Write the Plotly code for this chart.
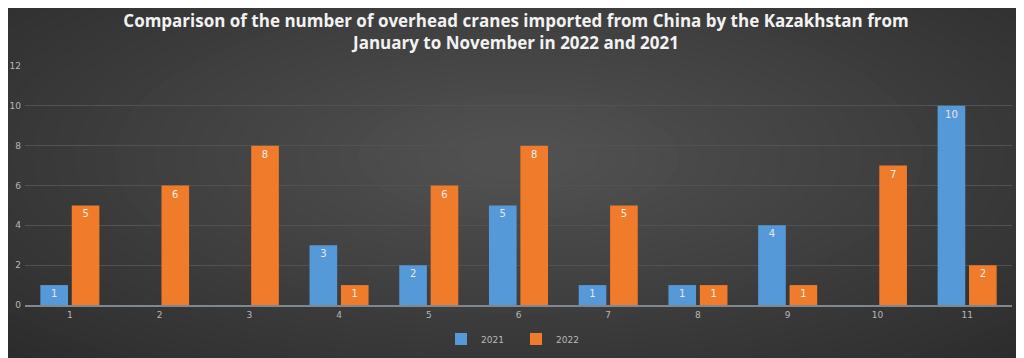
import plotly.graph_objects as go

months = ["1", "2", "3", "4", "5", "6", "7", "8", "9", "10", "11"]
values_2021 = [1, 0, 0, 3, 2, 5, 1, 1, 4, 0, 10]
values_2022 = [5, 6, 8, 1, 6, 8, 5, 1, 1, 7, 2]
y_ticks = [0, 2, 4, 6, 8, 10, 12]

def labels(vals):
    return [str(v) if v else "" for v in vals]

fig = go.Figure()
fig.add_trace(go.Bar(
    name="2021", x=months, y=values_2021, text=labels(values_2021),
    marker=dict(color="#5599d8", line=dict(width=0)),
    textposition="inside", insidetextanchor="end",
    textfont=dict(color="#e8e8e8", size=10, family="DejaVu Sans"),
))
fig.add_trace(go.Bar(
    name="2022", x=months, y=values_2022, text=labels(values_2022),
    marker=dict(color="#f07b2a", line=dict(width=0)),
    textposition="inside", insidetextanchor="end",
    textfont=dict(color="#f0f0f0", size=10, family="DejaVu Sans"),
))

# radial-ish background gradient built from concentric ellipses
shapes = []
n = 36
for i in range(n):
    t = i / (n - 1)
    rx = 0.72 * (1 - t) + 0.06
    ry = 1.15 * (1 - t) + 0.1
    c = int(round(42 + (80 - 42) * t))
    shapes.append(dict(
        type="circle", xref="paper", yref="paper",
        x0=0.5 - rx, x1=0.5 + rx, y0=0.62 - ry, y1=0.62 + ry,
        fillcolor=f"rgb({c},{c},{c})", line=dict(width=0), layer="below",
    ))

fig.update_layout(
    width=1016, height=350,
    margin=dict(l=17, r=12, t=58, b=53, autoexpand=False),
    paper_bgcolor="#2a2a2a", plot_bgcolor="rgba(0,0,0,0)",
    shapes=shapes,
    title=dict(
        text="Comparison of the number of overhead cranes imported from China by the Kazakhstan from<br>January to November in 2022 and 2021",
        x=0.5, xanchor="center", xref="container",
        y=0.946, yanchor="top", yref="container",
        font=dict(family="Open Sans", size=17, color="#f2f2f2", weight="bold"),
    ),
    barmode="group", bargap=0.3, bargroupgap=0.12,
    xaxis=dict(
        showgrid=False, showline=True, linecolor="#7f8790", linewidth=1.5,
        tickfont=dict(size=9, color="#b8b8b8", family="DejaVu Sans"),
        ticks="", fixedrange=True,
    ),
    yaxis=dict(
        range=[0, 12], tickvals=y_ticks, showgrid=True, gridcolor="#525252",
        gridwidth=1, zeroline=False, showline=False,
        tickfont=dict(size=9, color="#b8b8b8", family="DejaVu Sans"),
        ticklabelstandoff=3,
    ),
    legend=dict(
        orientation="h", x=0.5, xanchor="center", xref="container",
        y=0.054, yanchor="middle", yref="container",
        bgcolor="rgba(0,0,0,0)",
        font=dict(size=9, color="#b8b8b8", family="DejaVu Sans"),
        itemwidth=30, tracegroupgap=0,
        entrywidth=30, entrywidthmode="pixels",
    ),
    showlegend=True,
)

fig.write_html("out.html")
